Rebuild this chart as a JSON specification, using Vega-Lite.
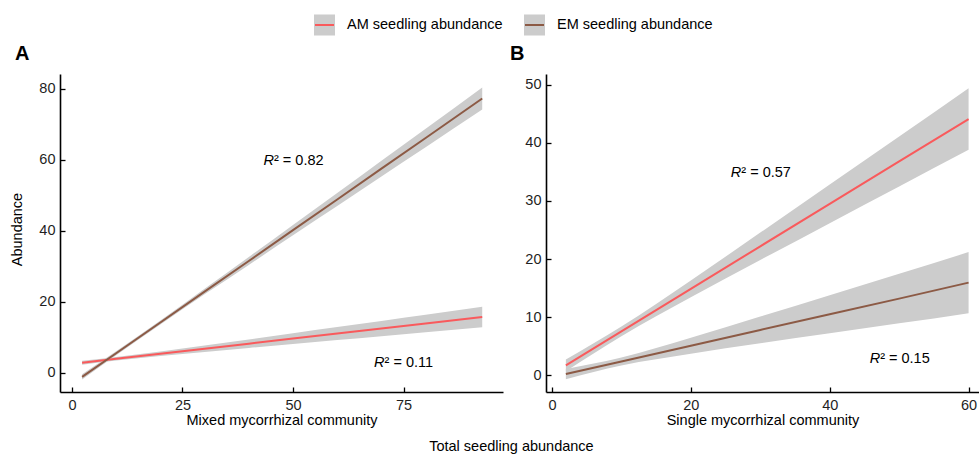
{
  "$schema": "https://vega.github.io/schema/vega-lite/v6.json",
  "padding": {"left": 9, "top": 14, "right": 0, "bottom": 0},
  "background": "white",
  "datasets": {
    "fitsA": [
      {"series": "AM seedling abundance", "x": 2.3, "y": 2.9, "lo": 2.35, "hi": 3.45},
      {"series": "AM seedling abundance", "x": 10, "y": 4.0, "lo": 3.5, "hi": 4.5},
      {"series": "AM seedling abundance", "x": 20, "y": 5.4, "lo": 4.76, "hi": 6.04},
      {"series": "AM seedling abundance", "x": 30, "y": 6.8, "lo": 5.9, "hi": 7.7},
      {"series": "AM seedling abundance", "x": 40, "y": 8.25, "lo": 7.06, "hi": 9.44},
      {"series": "AM seedling abundance", "x": 50, "y": 9.67, "lo": 8.17, "hi": 11.17},
      {"series": "AM seedling abundance", "x": 60, "y": 11.1, "lo": 9.27, "hi": 12.93},
      {"series": "AM seedling abundance", "x": 70, "y": 12.5, "lo": 10.36, "hi": 14.64},
      {"series": "AM seedling abundance", "x": 80, "y": 13.9, "lo": 11.43, "hi": 16.37},
      {"series": "AM seedling abundance", "x": 92.8, "y": 15.75, "lo": 12.85, "hi": 18.65},
      {"series": "EM seedling abundance", "x": 2.3, "y": -1.1, "lo": -1.81, "hi": -0.39},
      {"series": "EM seedling abundance", "x": 10, "y": 5.56, "lo": 5.02, "hi": 6.1},
      {"series": "EM seedling abundance", "x": 20, "y": 14.2, "lo": 13.66, "hi": 14.74},
      {"series": "EM seedling abundance", "x": 30, "y": 22.9, "lo": 22.13, "hi": 23.67},
      {"series": "EM seedling abundance", "x": 40, "y": 31.5, "lo": 30.4, "hi": 32.6},
      {"series": "EM seedling abundance", "x": 50, "y": 40.2, "lo": 38.74, "hi": 41.66},
      {"series": "EM seedling abundance", "x": 60, "y": 48.8, "lo": 46.96, "hi": 50.64},
      {"series": "EM seedling abundance", "x": 70, "y": 57.5, "lo": 55.28, "hi": 59.72},
      {"series": "EM seedling abundance", "x": 80, "y": 66.1, "lo": 63.5, "hi": 68.7},
      {"series": "EM seedling abundance", "x": 92.8, "y": 77.2, "lo": 74.1, "hi": 80.3}
    ],
    "fitsB": [
      {"series": "AM seedling abundance", "x": 2, "y": 1.72, "lo": 0.72, "hi": 2.72},
      {"series": "AM seedling abundance", "x": 10, "y": 7.57, "lo": 6.74, "hi": 8.4},
      {"series": "AM seedling abundance", "x": 20, "y": 14.87, "lo": 13.42, "hi": 16.32},
      {"series": "AM seedling abundance", "x": 30, "y": 22.2, "lo": 19.84, "hi": 24.56},
      {"series": "AM seedling abundance", "x": 40, "y": 29.5, "lo": 26.18, "hi": 32.82},
      {"series": "AM seedling abundance", "x": 50, "y": 36.8, "lo": 32.5, "hi": 41.1},
      {"series": "AM seedling abundance", "x": 60, "y": 44.1, "lo": 38.8, "hi": 49.4},
      {"series": "EM seedling abundance", "x": 2, "y": 0.22, "lo": -0.66, "hi": 1.1},
      {"series": "EM seedling abundance", "x": 10, "y": 2.39, "lo": 1.71, "hi": 3.07},
      {"series": "EM seedling abundance", "x": 20, "y": 5.1, "lo": 3.73, "hi": 6.47},
      {"series": "EM seedling abundance", "x": 30, "y": 7.81, "lo": 5.51, "hi": 10.11},
      {"series": "EM seedling abundance", "x": 40, "y": 10.5, "lo": 7.23, "hi": 13.77},
      {"series": "EM seedling abundance", "x": 50, "y": 13.2, "lo": 8.94, "hi": 17.46},
      {"series": "EM seedling abundance", "x": 60, "y": 15.95, "lo": 10.7, "hi": 21.2}
    ],
    "notesA": [
      {"x": 50, "y": 60, "label": "² = 0.82"},
      {"x": 75, "y": 3, "label": "² = 0.11"}
    ],
    "notesB": [
      {"x": 30, "y": 35, "label": "² = 0.57"},
      {"x": 50, "y": 3, "label": "² = 0.15"}
    ]
  },
  "hconcat": [
    {
      "width": 443,
      "height": 318,
      "title": {"text": "A", "anchor": "start", "frame": "group", "dx": -45, "offset": -6, "baseline": "alphabetic", "fontSize": 20, "fontWeight": "bold", "color": "black"},
      "layer": [
        {
          "data": {"name": "fitsA"},
          "mark": {"type": "area", "interpolate": "monotone", "opacity": 1},
          "encoding": {
            "x": {"field": "x", "type": "quantitative", "scale": {"domain": [-2.7, 97.5], "nice": false, "zero": false}, "axis": {"values": [0, 25, 50, 75], "title": "Mixed mycorrhizal community"}},
            "y": {"field": "lo", "type": "quantitative", "stack": null, "scale": {"domain": [-5.35, 84.1], "nice": false, "zero": false}, "axis": {"values": [0, 20, 40, 60, 80], "title": "Abundance", "titleY": 155}},
            "y2": {"field": "hi"},
            "fill": {"field": "series", "type": "nominal", "scale": {"range": ["#CCCCCC", "#CCCCCC"]},
              "legend": {"orient": "none", "legendX": 254, "legendY": -59.5, "direction": "horizontal", "title": null, "symbolType": "square", "symbolSize": 361, "symbolStrokeWidth": 2, "symbolStrokeColor": "#CCCCCC", "symbolFillColor": "#CCCCCC", "symbolOpacity": 1, "labelFontSize": 14.5, "labelOffset": 12, "columnPadding": 18, "labelColor": "black"}}
          }
        },
        {
          "data": {"name": "fitsA"},
          "mark": {"type": "line", "strokeWidth": 2},
          "encoding": {
            "x": {"field": "x", "type": "quantitative", "scale": {"domain": [-2.7, 97.5], "nice": false, "zero": false}, "axis": {"values": [0, 25, 50, 75], "title": "Mixed mycorrhizal community"}},
            "y": {"field": "y", "type": "quantitative", "scale": {"domain": [-5.35, 84.1], "nice": false, "zero": false}, "axis": {"values": [0, 20, 40, 60, 80], "title": "Abundance", "titleY": 155}},
            "stroke": {"field": "series", "type": "nominal", "scale": {"domain": ["AM seedling abundance", "EM seedling abundance"], "range": ["#F95A5C", "#8C5A45"]},
              "legend": {"orient": "none", "legendX": 254, "legendY": -59.5, "direction": "horizontal", "title": null, "symbolType": "stroke", "symbolSize": 361, "symbolStrokeWidth": 2, "labelFontSize": 14.5, "labelOffset": 12, "columnPadding": 18, "labelOpacity": 0}}
          }
        },
        {
          "data": {"name": "notesA"},
          "mark": {"type": "text", "fontStyle": "italic", "fontSize": 14.5, "align": "right", "dx": -19, "dy": 1, "baseline": "middle", "color": "black"},
          "encoding": {
            "x": {"field": "x", "type": "quantitative", "scale": {"domain": [-2.7, 97.5], "nice": false, "zero": false}, "axis": {"values": [0, 25, 50, 75], "title": "Mixed mycorrhizal community"}},
            "y": {"field": "y", "type": "quantitative", "scale": {"domain": [-5.35, 84.1], "nice": false, "zero": false}, "axis": {"values": [0, 20, 40, 60, 80], "title": "Abundance", "titleY": 155}},
            "text": {"value": "R"}
          }
        },
        {
          "data": {"name": "notesA"},
          "mark": {"type": "text", "fontSize": 14.5, "align": "left", "dx": -19, "dy": 1, "baseline": "middle", "color": "black"},
          "encoding": {
            "x": {"field": "x", "type": "quantitative", "scale": {"domain": [-2.7, 97.5], "nice": false, "zero": false}, "axis": {"values": [0, 25, 50, 75], "title": "Mixed mycorrhizal community"}},
            "y": {"field": "y", "type": "quantitative", "scale": {"domain": [-5.35, 84.1], "nice": false, "zero": false}, "axis": {"values": [0, 20, 40, 60, 80], "title": "Abundance", "titleY": 155}},
            "text": {"field": "label"}
          }
        }
      ]
    },
    {
      "width": 433,
      "height": 318,
      "title": {"text": "B", "anchor": "start", "frame": "group", "dx": -36, "offset": -6, "baseline": "alphabetic", "fontSize": 20, "fontWeight": "bold", "color": "black"},
      "layer": [
        {
          "data": {"name": "fitsB"},
          "mark": {"type": "area", "interpolate": "monotone", "opacity": 1},
          "encoding": {
            "x": {"field": "x", "type": "quantitative", "scale": {"domain": [-0.86, 61.5], "nice": false, "zero": false}, "axis": {"values": [0, 20, 40, 60], "title": "Single mycorrhizal community"}},
            "y": {"field": "lo", "type": "quantitative", "stack": null, "scale": {"domain": [-2.87, 51.85], "nice": false, "zero": false}, "axis": {"values": [0, 10, 20, 30, 40, 50], "title": null}},
            "y2": {"field": "hi"},
            "fill": {"field": "series", "type": "nominal", "scale": {"range": ["#CCCCCC", "#CCCCCC"]},
              "legend": {"orient": "none", "legendX": 254, "legendY": -59.5, "direction": "horizontal", "title": null, "symbolType": "square", "symbolSize": 361, "symbolStrokeWidth": 2, "symbolStrokeColor": "#CCCCCC", "symbolFillColor": "#CCCCCC", "symbolOpacity": 1, "labelFontSize": 14.5, "labelOffset": 12, "columnPadding": 18, "labelColor": "black"}}
          }
        },
        {
          "data": {"name": "fitsB"},
          "mark": {"type": "line", "strokeWidth": 2},
          "encoding": {
            "x": {"field": "x", "type": "quantitative", "scale": {"domain": [-0.86, 61.5], "nice": false, "zero": false}, "axis": {"values": [0, 20, 40, 60], "title": "Single mycorrhizal community"}},
            "y": {"field": "y", "type": "quantitative", "scale": {"domain": [-2.87, 51.85], "nice": false, "zero": false}, "axis": {"values": [0, 10, 20, 30, 40, 50], "title": null}},
            "stroke": {"field": "series", "type": "nominal", "scale": {"domain": ["AM seedling abundance", "EM seedling abundance"], "range": ["#F95A5C", "#8C5A45"]},
              "legend": {"orient": "none", "legendX": 254, "legendY": -59.5, "direction": "horizontal", "title": null, "symbolType": "stroke", "symbolSize": 361, "symbolStrokeWidth": 2, "labelFontSize": 14.5, "labelOffset": 12, "columnPadding": 18, "labelOpacity": 0}}
          }
        },
        {
          "data": {"name": "notesB"},
          "mark": {"type": "text", "fontStyle": "italic", "fontSize": 14.5, "align": "right", "dx": -19, "dy": 1, "baseline": "middle", "color": "black"},
          "encoding": {
            "x": {"field": "x", "type": "quantitative", "scale": {"domain": [-0.86, 61.5], "nice": false, "zero": false}, "axis": {"values": [0, 20, 40, 60], "title": "Single mycorrhizal community"}},
            "y": {"field": "y", "type": "quantitative", "scale": {"domain": [-2.87, 51.85], "nice": false, "zero": false}, "axis": {"values": [0, 10, 20, 30, 40, 50], "title": null}},
            "text": {"value": "R"}
          }
        },
        {
          "data": {"name": "notesB"},
          "mark": {"type": "text", "fontSize": 14.5, "align": "left", "dx": -19, "dy": 1, "baseline": "middle", "color": "black"},
          "encoding": {
            "x": {"field": "x", "type": "quantitative", "scale": {"domain": [-0.86, 61.5], "nice": false, "zero": false}, "axis": {"values": [0, 20, 40, 60], "title": "Single mycorrhizal community"}},
            "y": {"field": "y", "type": "quantitative", "scale": {"domain": [-2.87, 51.85], "nice": false, "zero": false}, "axis": {"values": [0, 10, 20, 30, 40, 50], "title": null}},
            "text": {"field": "label"}
          }
        }
      ]
    }
  ],
  "spacing": 43,
  "bounds": "flush",
  "title": {"text": "Total seedling abundance", "orient": "bottom", "anchor": "middle", "frame": "bounds", "fontSize": 14.5, "fontWeight": "normal", "color": "black", "offset": 13, "dx": 17},
  "config": {
    "font": "Liberation Sans",
    "view": {"stroke": null},
    "axis": {"grid": false, "domainColor": "black", "domainWidth": 1.6, "tickColor": "black", "tickWidth": 1.3, "tickSize": -5, "labelFontSize": 14.5, "labelColor": "#1f1f1f", "labelFlush": false, "titleFontSize": 14.5, "titleFontWeight": "normal", "titleColor": "black"},
    "axisX": {"labelPadding": 11, "titlePadding": 2},
    "axisY": {"labelPadding": 10, "titlePadding": 14},
    "legend": {"labelFontSize": 14.5, "labelColor": "black"}
  }
}
